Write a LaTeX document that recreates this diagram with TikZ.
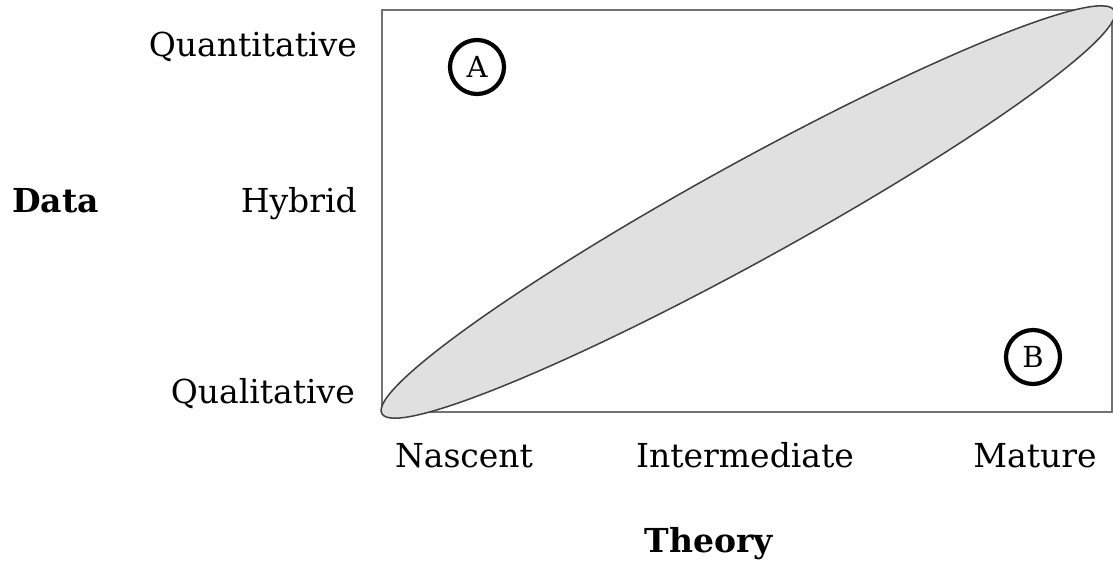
\documentclass[tikz,border=0pt]{standalone}
\usepackage{fontspec}
\setmainfont{DejaVu Serif}
\usetikzlibrary{shapes.geometric}
\definecolor{framegray}{gray}{0.45}
\definecolor{fillgray}{gray}{0.88}
\definecolor{edgegray}{gray}{0.25}
\begin{document}
\begin{tikzpicture}[x=1pt,y=-1pt,
  lbl/.style={font=\fontsize{33}{38}\selectfont, inner sep=0pt},
  ttl/.style={font=\bfseries\fontsize{33}{38}\selectfont, inner sep=0pt},
  quadmark/.style={circle, draw=black, line width=4.2pt, minimum size=54pt, inner sep=0pt, font=\fontsize{29}{32}\selectfont}]
\useasboundingbox (0,0) rectangle (1113,560);
\node[draw=framegray, line width=2pt, minimum width=730pt, minimum height=402pt, anchor=north west, inner sep=0pt, outer sep=0pt] (box) at (382,10) {};
\node[ellipse, draw=edgegray, fill=fillgray, line width=1.5pt, minimum width=836pt, minimum height=98pt, inner sep=0pt, rotate=28.84] (ell) at (748,212) {};
\node[quadmark] (A) at (477,67) {A};
\node[quadmark] (B) at (1033,357) {B};
\node[lbl, anchor=base east] (quant) at (357,56) {Quantitative};
\node[lbl, anchor=base east] (hyb) at (357,212) {Hybrid};
\node[lbl, anchor=base east] (qual) at (355,403) {Qualitative};
\node[ttl, anchor=base west] (data) at (12,212) {Data};
\node[lbl, anchor=base] (nas) at (464,467) {Nascent};
\node[lbl, anchor=base] (int) at (745,467) {Intermediate};
\node[lbl, anchor=base] (mat) at (1035,467) {Mature};
\node[ttl, anchor=base] (theory) at (709,552) {Theory};
\end{tikzpicture}
\end{document}
